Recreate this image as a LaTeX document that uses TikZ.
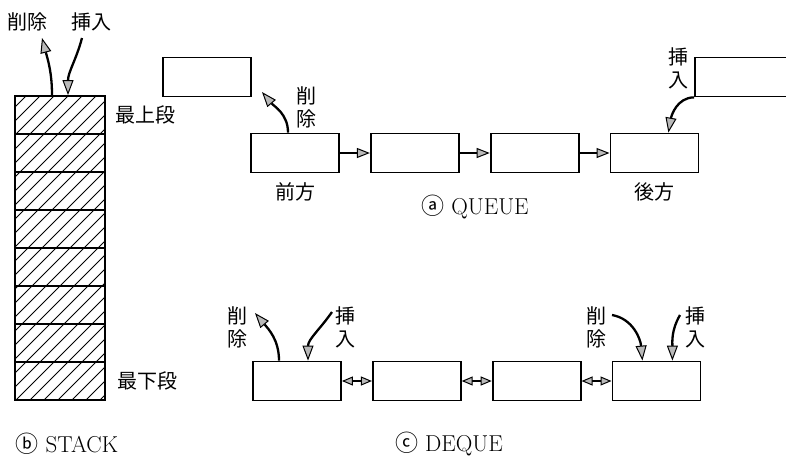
\documentclass[tikz,border=0pt]{standalone}
\usepackage{fontspec}
\usepackage{tikz}
\usetikzlibrary{arrows.meta,positioning}
\newfontfamily\jpfont{Noto Sans CJK JP}

\begin{document}
\begin{tikzpicture}[x=1pt,y=-1pt,
          cell/.style={draw,line width=1.8pt,minimum width=90pt,
                       minimum height=38pt,inner sep=0pt},
          box/.style={draw,line width=1.8pt,minimum width=88pt,
                      minimum height=39pt,inner sep=0pt},
          jp/.style={font=\jpfont\fontsize{20}{23}\selectfont,
                     inner sep=0pt,align=center},
          figcap/.style={font=\fontsize{23}{26}\selectfont,inner sep=0pt},
          flow/.style={line width=2.3pt,
                       -{Triangle[length=15pt,width=11pt,fill=gray!55,line width=1pt]}},
          link/.style={line width=2pt,
                       -{Triangle[length=13pt,width=10pt,fill=gray!55,line width=1pt]}},
          dlink/.style={line width=1.8pt,
                        {Triangle[length=11pt,width=9pt,fill=gray!55,line width=1pt]}-{Triangle[length=11pt,width=9pt,fill=gray!55,line width=1pt]}}]
  \path[use as bounding box,clip] (0,0) rectangle (786,456);

  % stack
  \foreach \i in {1,...,8}
    \node[cell] (c\i) at (60,{115+38*(\i-1)}) {};
  \begin{scope}
    \clip (c1.north west) rectangle (c8.south east);
    \foreach \k in {-22,...,7}
      \draw[line width=0.8pt] ({15+14*\k},401) -- ++(305,-305);
  \end{scope}
  \node[jp] (sdel) at (27,22) {削除};
  \node[jp] (sins) at (91,22) {挿入};
  \coordinate (sdelend) at (42,38);
  \coordinate (sinsstart) at (82,38);
  \draw[flow] ([xshift=-8pt]c1.north) to[out=90,in=-75] (sdelend);
  \draw[flow] (sinsstart) to[out=-105,in=90] ([xshift=8pt]c1.north);
  \node[jp,right=9pt of c1] (stop) {最上段};
  \node[jp,right=11pt of c8] (sbot) {最下段};
  \node[figcap,anchor=base] (scap) at (67,452) {{\jpfont\fontsize{23}{24}\selectfont ⓑ}\ STACK};

  % queue
  \node[box] (q1) at (295,153) {};
  \node[box,right=30pt of q1] (q2) {};
  \node[box,right=30pt of q2] (q3) {};
  \node[box,right=30pt of q3] (q4) {};
  \node[box] (qout) at (207,77) {};
  \node[box,anchor=west,minimum width=130pt] (qin) at (694,77) {};
  \foreach \a/\b in {q1/q2,q2/q3,q3/q4}
    \draw[link] (\a) -- (\b);
  \node[jp] (qdel) at (306,107) {削\\除};
  \node[jp] (qins) at (678,68) {挿\\入};
  \coordinate (qdelend) at (262,92);
  \draw[flow] ([xshift=-7pt]q1.north) to[out=90,in=-50] (qdelend);
  \draw[flow] (qin.south west) to[out=180,in=80] ([xshift=14pt]q4.north);
  \node[jp,below=9pt of q1] (qfront) {前方};
  \node[jp,below=9pt of q4] (qback) {後方};
  \node[figcap,anchor=base] (qcap) at (475,214) {{\jpfont\fontsize{23}{24}\selectfont ⓐ}\ QUEUE};

  % deque
  \node[box] (d1) at (297,381) {};
  \node[box,right=30pt of d1] (d2) {};
  \node[box,right=30pt of d2] (d3) {};
  \node[box,right=30pt of d3] (d4) {};
  \foreach \a/\b in {d1/d2,d2/d3,d3/d4}
    \draw[dlink] (\a) -- (\b);
  \node[jp] (ddelL) at (237,327) {削\\除};
  \node[jp] (dinsL) at (345,327) {挿\\入};
  \node[jp] (ddelR) at (596,327) {削\\除};
  \node[jp] (dinsR) at (695,327) {挿\\入};
  \coordinate (ddelLend) at (255,313);
  \coordinate (dinsLstart) at (332,312);
  \coordinate (ddelRstart) at (612,315);
  \coordinate (dinsRstart) at (680,315);
  \draw[flow] ([xshift=-18pt]d1.north) to[out=90,in=-50] (ddelLend);
  \draw[flow] (dinsLstart) to[out=-125,in=90] ([xshift=11pt]d1.north);
  \draw[flow] (ddelRstart) to[out=-10,in=95] ([xshift=-14pt]d4.north);
  \draw[flow] (dinsRstart) to[out=-120,in=90] ([xshift=16pt]d4.north);
  \node[figcap,anchor=base] (dcap) at (449,451) {{\jpfont\fontsize{23}{24}\selectfont ⓒ}\ DEQUE};
\end{tikzpicture}
\end{document}
